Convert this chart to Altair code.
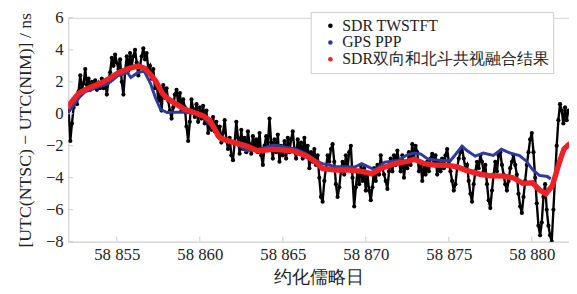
import altair as alt
import pandas as pd

# ---------------- data ----------------
series_names = ["SDR TWSTFT", "GPS PPP", "SDR双向和北斗共视融合结果"]
series_colors = ["#000000", "#2c3c9e", "#ee2226"]

# SDR TWSTFT (black dots), sampled every 0.1 day starting at MJD 58852.1
tw_52 = [0.2, -1.7, -0.6, 0.4, 1.0, 0.6, 1.4, 2.4, 1.6, 1.9]
tw_53 = [2.8, 1.8, 2.2, 1.5, 2.0, 1.6, 2.1, 1.5, 1.9, 1.6]
tw_54 = [2.2, 1.6, 2.0, 1.2, 2.1, 2.6, 3.5, 3.0, 3.7, 3.2]
tw_55 = [2.8, 3.4, 2.0, 1.2, 2.6, 3.6, 2.7, 3.8, 3.0, 3.6]
tw_56 = [4.0, 3.2, 2.4, 3.0, 3.6, 4.1, 3.4, 3.8, 2.8, 3.0]
tw_57 = [2.2, 2.8, 1.6, 2.0, 0.8, 1.6, 0.2, 1.8, 1.0, 1.6]
tw_58 = [0.8, 0.2, -0.3, 0.4, 1.2, 1.5, 0.6, 1.3, 0.2, 0.9]
tw_59 = [0.4, -0.8, -1.7, -0.5, 0.9, 0.3, -0.2, 0.6, -0.5, 0.4]
tw_60 = [-0.3, 0.5, -0.6, 0.2, -1.2, -0.4, -1.0, -0.2, -1.1, -0.5]
tw_61 = [-1.4, -0.8, -1.8, -1.2, -0.4, -1.6, -2.2, -1.5, -2.6, -2.9]
tw_62 = [-1.8, -0.5, -1.5, -2.5, -1.0, -2.2, -1.5, -2.4, -1.1, -1.9]
tw_63 = [-2.5, -1.4, -2.2, -1.6, -2.4, -1.2, -2.6, -3.2, -2.0, -1.4]
tw_64 = [-2.0, -0.3, -1.8, -2.8, -1.6, -2.4, -1.3, -3.0, -2.0, -2.6]
tw_65 = [-1.7, -2.8, -1.5, -2.4, -1.6, -1.1, -2.2, -2.8, -1.6, -2.4]
tw_66 = [-1.8, -2.8, -1.5, -2.6, -2.0, -3.4, -2.4, -3.0, -2.2, -3.2]
tw_67 = [-2.6, -4.0, -5.2, -5.5, -4.2, -3.4, -2.6, -3.0, -2.2, -1.9]
tw_68 = [-3.0, -4.4, -5.2, -4.6, -3.6, -3.0, -3.8, -2.6, -3.4, -2.4]
tw_69 = [-2.0, -4.0, -5.8, -4.6, -3.6, -4.4, -3.2, -4.2, -3.4, -4.8]
tw_70 = [-3.8, -4.8, -5.4, -4.6, -3.4, -4.2, -3.2, -3.8, -2.6, -3.4]
tw_71 = [-3.8, -4.2, -4.7, -3.6, -2.8, -3.6, -2.6, -3.2, -2.3, -3.0]
tw_72 = [-3.6, -2.6, -4.0, -3.0, -3.4, -2.4, -3.2, -1.9, -2.8, -2.0]
tw_73 = [-2.4, -3.6, -3.0, -4.2, -3.2, -3.8, -3.0, -3.6, -2.8, -2.5]
tw_74 = [-3.2, -2.6, -3.8, -3.0, -3.6, -2.8, -3.4, -2.6, -2.2, -3.0]
tw_75 = [-3.6, -4.2, -4.8, -4.4, -3.4, -2.8, -2.4, -2.1, -2.8, -3.4]
tw_76 = [-3.2, -4.2, -5.0, -5.5, -4.4, -3.6, -3.0, -3.4, -2.6, -3.0]
tw_77 = [-3.6, -3.2, -4.4, -5.4, -5.9, -4.8, -3.8, -3.0, -3.6, -2.6]
tw_78 = [-2.4, -3.2, -3.8, -4.4, -4.8, -4.2, -3.4, -3.0, -2.6, -3.2]
tw_79 = [-3.8, -5.0, -5.8, -6.2, -5.2, -4.2, -3.2, -2.4, -1.6, -1.2]
tw_80 = [-2.4, -4.0, -5.6, -7.0, -7.6, -6.8, -5.2, -4.4, -6.0, -7.0]
tw_81 = [-7.6, -8.0, -6.0, -4.0, -2.0, -0.4, 0.6, 0.2, -0.6, 0.4, -0.4, 0.2]

tw_values = (tw_52 + tw_53 + tw_54 + tw_55 + tw_56 + tw_57 + tw_58 + tw_59 + tw_60
             + tw_61 + tw_62 + tw_63 + tw_64 + tw_65 + tw_66 + tw_67 + tw_68 + tw_69
             + tw_70 + tw_71 + tw_72 + tw_73 + tw_74 + tw_75 + tw_76 + tw_77 + tw_78
             + tw_79 + tw_80 + tw_81)
tw_days = [round(58852.1 + 0.1 * i, 2) for i in range(len(tw_values))]

# GPS PPP (blue)
gps_days = [58852.07, 58852.72, 58853.08, 58853.87, 58854.46, 58855.06, 58855.65,
            58855.85, 58856.25, 58856.65, 58857.04, 58857.34, 58857.64, 58858.03,
            58858.43, 58859.02, 58859.62, 58860.21, 58860.80, 58861.34, 58862.23,
            58862.80, 58863.42, 58864.50, 58865.80, 58866.40, 58866.98, 58867.38,
            58868.17, 58869.36, 58869.76, 58870.55, 58871.14, 58871.93, 58872.53,
            58872.93, 58873.32, 58873.72, 58874.51, 58875.11, 58875.50, 58875.80,
            58876.09, 58876.59, 58877.08, 58877.68, 58878.17, 58878.67, 58879.26,
            58879.66, 58880.05, 58880.45, 58880.94, 58881.14]
gps_values = [0.05, 1.0, 1.37, 1.67, 1.87, 2.37, 2.57,
              2.27, 2.57, 2.67, 1.87, 0.97, 0.27, 0.08,
              0.10, 0.10, 0.05, -0.20, -0.90, -1.55, -1.90,
              -2.30, -2.25, -1.95, -2.22, -2.50, -2.92, -3.12,
              -3.30, -3.32, -3.12, -3.52, -3.02, -2.92, -2.55,
              -2.45, -2.52, -2.82, -2.92, -2.92, -2.42, -2.02,
              -2.30, -2.65, -2.45, -2.60, -2.22, -2.45, -2.62,
              -2.95, -3.50, -3.85, -3.92, -4.08]

# fused result (red)
fus_days = [58852.05, 58852.72, 58853.08, 58853.50, 58854.11, 58854.70, 58855.06,
            58855.45, 58855.85, 58856.29, 58856.69, 58857.08, 58857.34, 58857.73,
            58858.00, 58858.43, 58859.06, 58859.66, 58860.25, 58860.61, 58860.85,
            58861.10, 58861.24, 58861.80, 58862.59, 58862.83, 58863.42, 58863.62,
            58864.41, 58865.60, 58866.39, 58866.98, 58867.38, 58868.17, 58868.96,
            58869.76, 58870.35, 58870.95, 58871.74, 58872.53, 58872.93, 58873.52,
            58874.11, 58874.90, 58875.50, 58876.09, 58876.89, 58877.48, 58878.27,
            58878.87, 58879.46, 58880.05, 58880.45, 58880.85, 58881.24, 58881.64,
            58881.94, 58882.23]
fus_values = [0.45, 1.30, 1.50, 1.70, 1.95, 2.30, 2.55,
              2.72, 2.87, 2.98, 2.85, 2.40, 2.05, 1.30,
              1.00, 0.70, 0.30, 0.08, -0.15, -0.43, -0.86,
              -1.35, -1.52, -1.72, -1.95, -2.02, -2.30, -2.32,
              -2.22, -2.32, -2.62, -3.00, -3.42, -3.52, -3.52,
              -3.60, -3.75, -3.40, -3.12, -2.98, -2.84, -3.12,
              -3.20, -3.22, -3.32, -3.55, -3.78, -3.88, -3.90,
              -4.00, -4.35, -4.32, -4.75, -5.00, -4.50, -3.10,
              -2.20, -1.92]

x_ticks = [58855, 58860, 58865, 58870, 58875, 58880]
y_ticks = [-8, -6, -4, -2, 0, 2, 4, 6]
x_domain = [58852.07, 58882.24]
y_domain = [-8, 6]

# ---------------- build the table ----------------
rows = []
for d, v in zip(tw_days, tw_values):
    rows.append({"day": d, "value": v, "series": series_names[0]})
for d, v in zip(gps_days, gps_values):
    rows.append({"day": d, "value": v, "series": series_names[1]})
for d, v in zip(fus_days, fus_values):
    rows.append({"day": d, "value": v, "series": series_names[2]})
df = pd.DataFrame(rows)

SERIF = "Liberation Serif"
TXT = "#222222"

xs = alt.Scale(domain=x_domain, nice=False, zero=False)
ys = alt.Scale(domain=y_domain, nice=False, zero=False)

x_enc = alt.X("day:Q", scale=xs, axis=alt.Axis(
    values=x_ticks, labelOverlap=False, labelFont=SERIF, titleFont=SERIF,
    labelExpr="format(floor(datum.value/1000),'d') + ' ' + format(datum.value % 1000, '03d')",
    title="约化儒略日", titlePadding=6))
y_enc = alt.Y("value:Q", scale=ys, axis=alt.Axis(
    values=y_ticks, labelOverlap=False, labelFont=SERIF, titleFont=SERIF,
    title="[UTC(NTSC) − UTC(NIM)] / ns", titlePadding=11))

base = alt.Chart(df).encode(x=x_enc, y=y_enc)

tw_line = base.transform_filter(alt.datum.series == series_names[0]).mark_line(
    color="#000000", strokeWidth=2.4, clip=True)
tw_pts = base.transform_filter(alt.datum.series == series_names[0]).mark_circle(
    size=18, opacity=1, clip=True).encode(
    color=alt.Color("series:N", scale=alt.Scale(domain=series_names, range=series_colors),
                    legend=alt.Legend(title=None, orient="none", legendX=246, legendY=-6,
                                      strokeColor="#cccccc", fillColor="white", padding=6,
                                      symbolType="circle", symbolSize=22, rowPadding=1,
                                      labelLimit=400, symbolOffset=6)))
gps_line = base.transform_filter(alt.datum.series == series_names[1]).mark_line(
    color=series_colors[1], strokeWidth=3, clip=True)
fus_line = base.transform_filter(alt.datum.series == series_names[2]).mark_line(
    color=series_colors[2], strokeWidth=5.5, clip=True, strokeCap="round")

yt = alt.Chart(pd.DataFrame({"value": y_ticks})).mark_rule(color="#cccccc").encode(
    y=y_enc, x=alt.value(0), x2=alt.value(5))
xt = alt.Chart(pd.DataFrame({"day": x_ticks})).mark_rule(color="#cccccc").encode(
    x=x_enc, y=alt.value(227), y2=alt.value(222))

chart = alt.layer(tw_line, tw_pts, gps_line, fus_line, yt, xt).properties(
    width=508, height=227, background="white",
    autosize=alt.AutoSizeParams(type="none"),
    padding={"left": 61, "top": 8, "right": 0, "bottom": 49},
).configure(
    font=SERIF
).configure_view(
    stroke="#d4d4d4"
).configure_axis(
    labelFont=SERIF, labelFontSize=17, labelColor=TXT, labelPadding=5,
    titleFont=SERIF, titleFontSize=18, titleFontWeight="normal", titleColor=TXT,
    tickSize=0, grid=False, domainColor="#d4d4d4"
).configure_legend(
    labelFont=SERIF, labelFontSize=16, labelColor=TXT
)

chart.save("out.html", embed_options={"renderer": "svg", "actions": False})
